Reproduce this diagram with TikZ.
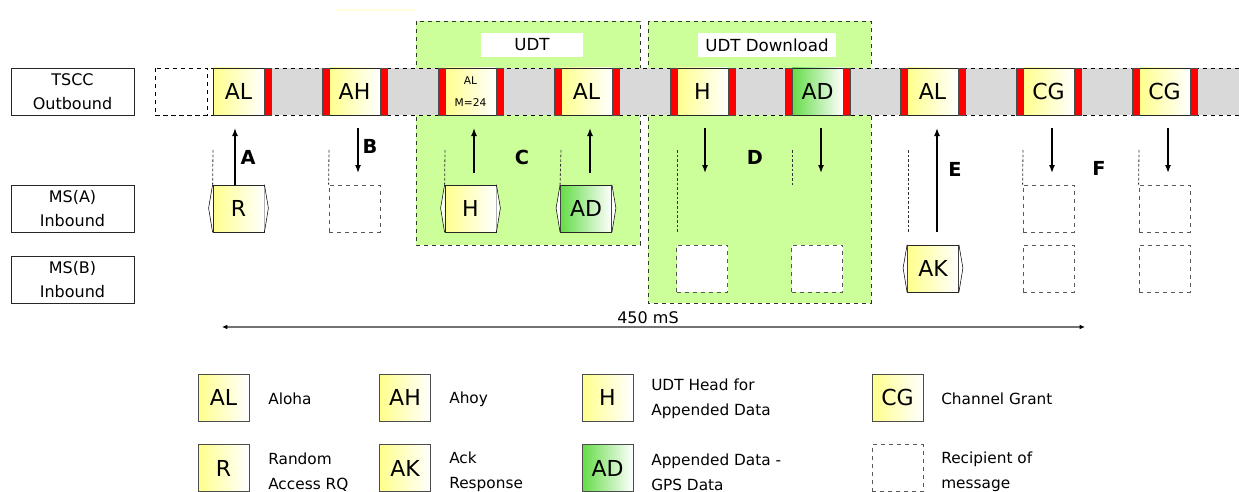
\documentclass[tikz,border=0pt]{standalone}
\usepackage{fontspec}
\setmainfont{DejaVu Sans}
\usetikzlibrary{arrows.meta}
\definecolor{ylw}{RGB}{255,255,140}
\definecolor{grn}{RGB}{100,220,70}
\definecolor{pale}{RGB}{204,255,153}
\definecolor{band}{RGB}{217,217,217}
\definecolor{faint}{RGB}{255,255,222}
\tikzset{
  slotbox/.style={draw=black!85, line width=0.6pt, left color=ylw, right color=white,
    minimum width=38.25pt, minimum height=35.25pt, inner sep=0pt, font=\fontsize{16.5}{16.5}\selectfont},
  gslotbox/.style={slotbox, left color=grn},
  redbar/.style={draw=black!70, line width=0.5pt, fill=red, minimum width=5.25pt, minimum height=35.25pt, inner sep=0pt},
  recip/.style={draw=black!65, dashed, line width=0.6pt, fill=white, minimum width=38.25pt, minimum height=35.25pt, inner sep=0pt},
  labbox/.style={draw=black!85, line width=0.6pt, minimum width=92.25pt, minimum height=35.25pt, inner sep=0pt, align=center, font=\fontsize{12}{18}\selectfont},
  region/.style={draw=black!80, dashed, line width=0.5pt, fill=pale},
  guide/.style={draw=black!80, line width=0.6pt, dash pattern=on 2pt off 1.5pt},
  arr/.style={line width=1.1pt, -{Latex[length=6pt,width=4.5pt]}},
  letter/.style={font=\fontsize{14.5}{14.5}\selectfont\bfseries},
  hexside/.style={draw=black, line width=0.4pt, fill=white},
  legtext/.style={anchor=west, align=left, inner sep=0pt, font=\fontsize{11.5}{18.75}\selectfont},
  titlebox/.style={fill=white, inner sep=0pt, font=\fontsize{12.5}{14}\selectfont},
}
\newcommand\tslot[4]{%
  \node[#3] (#1) at (#2+25.5,91.5) {#4};
  \node[redbar] (#1l) at (#2-3.5,91.5) {};
  \node[redbar] (#1r) at (#2+54.5,91.5) {};
}
\begin{document}
\begin{tikzpicture}[x=0.75pt,y=-0.75pt]
\useasboundingbox (0,0) rectangle (1239,492);
% faint line at top
\draw[faint, line width=1.2pt] (336,10) -- (415,10);
% green regions
\path[region] (416,21) rectangle (640,245);
\path[region] (648,21) rectangle (871,303);
\node[titlebox, minimum width=76.5pt, minimum height=18pt] (udt) at (532,45) {UDT};
\node[titlebox, minimum width=103.5pt, minimum height=18pt] (udtd) at (767,45) {UDT Download};
% row labels
\node[labbox] (tscc) at (72.5,92) {TSCC\\Outbound};
\node[labbox] (msa) at (72.5,209) {MS(A)\\Inbound};
\node[labbox] (msb) at (72.5,280) {MS(B)\\Inbound};
% outbound strip
\fill[band] (271,68) rectangle (1239,115);
\draw[dashed, line width=0.5pt] (155,68) -- (1239,68);
\draw[dashed, line width=0.5pt] (155,115) -- (1239,115);
\draw[dashed, line width=0.5pt, fill=white] (155,68) rectangle (207,115);
\node[slotbox] (s1) at (238.5,91.5) {AL};
\node[redbar] (s1r) at (267.5,91.5) {};
\tslot{s2}{329}{slotbox}{AH}
\tslot{s3}{445}{slotbox, align=center, font=\fontsize{8}{16.5}\selectfont}{AL\\M=24}
\tslot{s4}{561}{slotbox}{AL}
\tslot{s5}{677}{slotbox}{H}
\tslot{s6}{792}{gslotbox}{AD}
\tslot{s7}{907}{slotbox}{AL}
\tslot{s8}{1023}{slotbox}{CG}
\tslot{s9}{1139}{slotbox}{CG}
% MS(A) row
\node[slotbox] (r) at (238.5,208.5) {R};
\node[recip] (ba) at (354.5,208.5) {};
\node[slotbox] (ha) at (470.5,208.5) {H};
\node[gslotbox] (ada) at (586,208.5) {AD};
\node[recip] (fa1) at (1048.5,208.5) {};
\node[recip] (fa2) at (1164.5,208.5) {};
% MS(B) row
\node[recip] (db1) at (702,268.5) {};
\node[recip] (db2) at (817,268.5) {};
\node[slotbox] (ak) at (933,268.5) {AK};
\node[recip] (fb1) at (1048.5,268.5) {};
\node[recip] (fb2) at (1164.5,268.5) {};
% hexagonal sides
\foreach \n in {r,ha,ada,ak}{
  \draw[hexside] (\n.north west) -- ++(-4,23.5) -- (\n.south west);
  \draw[hexside] (\n.north east) -- ++(4,23.5) -- (\n.south east);
}
% guide lines
\draw[guide] (213,150) -- (r.north west);
\draw[guide] (329,150) -- (ba.north west);
\draw[guide] (445,150) -- (ha.north west);
\draw[guide] (561,150) -- (ada.north west);
\draw[guide] (677,150) -- (677,233);
\draw[guide] (792,150) -- (792,185);
\draw[guide] (908,150) -- (908,232);
\draw[guide] (1023,150) -- (fa1.north west);
\draw[guide] (1139,150) -- (fa2.north west);
% arrows
\coordinate (aA1) at (235,185); \coordinate (aA2) at (235,128);
\draw[arr] (aA1) -- (aA2);
\coordinate (aB1) at (358,128); \coordinate (aB2) at (358,173);
\draw[arr] (aB1) -- (aB2);
\coordinate (aC1) at (474,173); \coordinate (aC2) at (474,128);
\draw[arr] (aC1) -- (aC2);
\coordinate (aC3) at (590,173); \coordinate (aC4) at (590,128);
\draw[arr] (aC3) -- (aC4);
\coordinate (aD1) at (705,128); \coordinate (aD2) at (705,173);
\draw[arr] (aD1) -- (aD2);
\coordinate (aD3) at (821,128); \coordinate (aD4) at (821,173);
\draw[arr] (aD3) -- (aD4);
\coordinate (aE1) at (937,232); \coordinate (aE2) at (937,128);
\draw[arr] (aE1) -- (aE2);
\coordinate (aF1) at (1052,128); \coordinate (aF2) at (1052,173);
\draw[arr] (aF1) -- (aF2);
\coordinate (aF3) at (1168,128); \coordinate (aF4) at (1168,173);
\draw[arr] (aF3) -- (aF4);
% letters
\node[letter] (lA) at (248,157) {A};
\node[letter] (lB) at (370,146) {B};
\node[letter] (lC) at (522,157) {C};
\node[letter] (lD) at (755,157) {D};
\node[letter] (lE) at (955,169) {E};
\node[letter] (lF) at (1099,168) {F};
% 450 mS
\coordinate (m1) at (222,327); \coordinate (m2) at (1085,327);
\draw[black!55, line width=1pt, {Latex[length=4pt,width=3.5pt,color=black]}-{Latex[length=4pt,width=3.5pt,color=black]}] (m1) -- (m2);
\node[font=\fontsize{12}{14}\selectfont] (ms) at (648,318) {450 mS};
% legend
\node[slotbox, draw=black!70] (gAL) at (223.5,397.5) {AL};
\node[legtext] (tAL) at (268,399) {Aloha};
\node[slotbox, draw=black!70] (gAH) at (405,397.5) {AH};
\node[legtext] (tAH) at (449,399) {Ahoy};
\node[slotbox, draw=black!70] (gH) at (607.5,397.5) {H};
\node[legtext] (tH) at (651,399) {UDT Head for\\Appended Data};
\node[slotbox, draw=black!70] (gCG) at (897.5,397.5) {CG};
\node[legtext] (tCG) at (941,399) {Channel Grant};
\node[slotbox, draw=black!70] (gR) at (223.5,468) {R};
\node[legtext] (tR) at (268,472) {Random\\Access RQ};
\node[slotbox, draw=black!70] (gAK) at (405,468) {AK};
\node[legtext] (tAK) at (449,472) {Ack\\Response};
\node[gslotbox, draw=black!70] (gAD) at (607.5,468) {AD};
\node[legtext] (tAD) at (651,472) {Appended Data -\\GPS Data};
\node[recip] (gRc) at (897.5,468) {};
\node[legtext] (tRc) at (941,472) {Recipient of\\message};
\end{tikzpicture}
\end{document}
